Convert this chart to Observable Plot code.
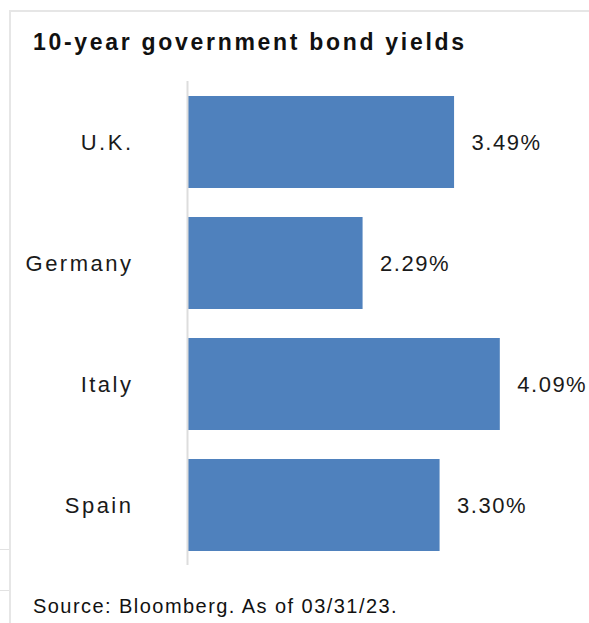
<!DOCTYPE html>
<html>
<head>
<meta charset="utf-8">
<script src="https://cdn.jsdelivr.net/npm/d3@7"></script>
<script src="https://cdn.jsdelivr.net/npm/@observablehq/plot@0.6"></script>
<style>
  html, body { margin: 0; padding: 0; background: #fff; overflow: hidden; }
  #wrap { position: relative; width: 589px; height: 623px; overflow: hidden; font-family: "Liberation Sans", Arial, sans-serif; }
  #chart { position: absolute; left: 0; top: 0; }
  .border-top { position: absolute; left: 9px; top: 10px; width: 600px; height: 2px; background: #e6e6e6; }
  .border-left { position: absolute; left: 9px; top: 10px; width: 2px; height: 620px; background: #e6e6e6; }
  .tickmark { position: absolute; left: 0; width: 9px; height: 1px; background: #e2e2e2; }
  #title { position: absolute; left: 33px; top: 31px; font-size: 23px; line-height: 23px; font-weight: bold; letter-spacing: 2.7px; color: #111; white-space: nowrap; }
  #caption { position: absolute; left: 33px; top: 596px; font-size: 20px; line-height: 20px; letter-spacing: 1.45px; color: #111; white-space: nowrap; }
  #chart text { letter-spacing: 2.5px; }
  #chart text.vlabel, #chart .vlabel text { letter-spacing: 1.5px; }
</style>
</head>
<body>
<div id="wrap">
  <div id="chart"></div>
  <div class="border-top"></div>
  <div class="border-left"></div>
  <div class="tickmark" style="top:549px"></div>
  <div class="tickmark" style="top:590px"></div>
  <div id="title">10-year government bond yields</div>
  <div id="caption">Source: Bloomberg. As of 03/31/23.</div>
</div>
<script>
const countries = ["U.K.", "Germany", "Italy", "Spain"];
const yields = [3.49, 2.29, 4.09, 3.30];
const valueLabels = ["3.49%", "2.29%", "4.09%", "3.30%"];

const data = countries.map((c, i) => ({country: c, value: yields[i], label: valueLabels[i]}));

const chart = Plot.plot({
  width: 589,
  height: 623,
  marginLeft: 188,
  marginRight: 0,
  marginTop: 81,
  marginBottom: 58,
  style: {fontFamily: "'Liberation Sans', Arial, sans-serif", fontSize: "22px", color: "#1a1a1a", background: "transparent"},
  x: {domain: [0, 5.26], axis: null},
  y: {domain: countries, paddingInner: 0.24, paddingOuter: 0.12, axis: null},
  marks: [
    Plot.barX(data, {x: "value", y: "country", fill: "#4f81bd"}),
    Plot.ruleX([0], {stroke: "#dddddd", strokeWidth: 2, dx: -1}),
    Plot.text(data, {x: "value", y: "country", text: "label", textAnchor: "start", dx: 17, fill: "#1a1a1a", fontSize: 22, className: "vlabel"}),
    Plot.axisY({tickSize: 0, tickPadding: 55, fontSize: 22, label: null, fill: "#1a1a1a"})
  ]
});
document.getElementById("chart").appendChild(chart);
</script>
</body>
</html>
